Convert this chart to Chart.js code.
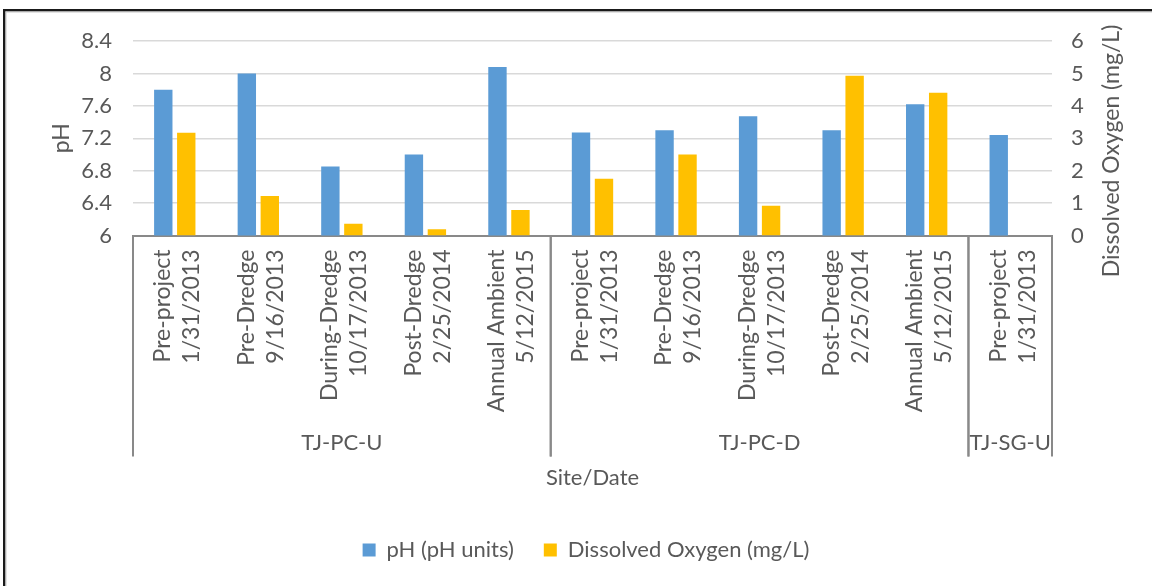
<!DOCTYPE html>
<html>
<head>
<meta charset="utf-8">
<script src="https://cdn.jsdelivr.net/npm/chart.js@4.4.1/dist/chart.umd.min.js"></script>
<style>
  html, body { margin: 0; padding: 0; background: #fff; }
  #wrap { position: relative; width: 1152px; height: 586px; }
</style>
</head>
<body>
<div id="wrap"><canvas id="waterChart" width="1152" height="586"></canvas></div>
<script>
const sampleNames = ["Pre-project", "Pre-Dredge", "During-Dredge", "Post-Dredge", "Annual Ambient",
                     "Pre-project", "Pre-Dredge", "During-Dredge", "Post-Dredge", "Annual Ambient",
                     "Pre-project"];
const sampleDates = ["1/31/2013", "9/16/2013", "10/17/2013", "2/25/2014", "5/12/2015",
                     "1/31/2013", "9/16/2013", "10/17/2013", "2/25/2014", "5/12/2015",
                     "1/31/2013"];
const siteNames = ["TJ-PC-U", "TJ-PC-D", "TJ-SG-U"];
const siteCounts = [5, 5, 1];
const phValues = [7.80, 8.00, 6.85, 7.00, 8.08, 7.27, 7.30, 7.47, 7.30, 7.62, 7.24];
const doValues = [3.17, 1.22, 0.36, 0.19, 0.79, 1.75, 2.50, 0.92, 4.93, 4.40, null];

const FONT = "Lato";
const TXT = "#595959";
const AXIS = "#898989";

// site brackets under the category labels, right axis title, frame
const siteBrackets = {
  id: "siteBrackets",
  beforeDraw(chart) {
    const { ctx, width, height } = chart;
    ctx.save();
    ctx.fillStyle = "#fff";
    ctx.fillRect(0, 0, width, height);
    ctx.fillStyle = "#1a1a1a";
    ctx.fillRect(3, 9, width - 3, 2.5);
    ctx.fillRect(3, 9, 2.5, height - 9);
    ctx.fillStyle = "#c8c8c8";
    ctx.fillRect(5.5, 11.5, width - 5.5, 1);
    ctx.fillRect(5.5, 11.5, 1, height - 11.5);
    ctx.restore();
  },
  afterDraw(chart) {
    const { ctx, scales: { x }, chartArea } = chart;
    const half = (x.getPixelForValue(1) - x.getPixelForValue(0)) / 2;
    const top = chartArea.bottom;
    const bottom = top + 221;
    ctx.save();
    ctx.strokeStyle = AXIS;
    ctx.lineWidth = 2;
    ctx.fillStyle = TXT;
    ctx.font = "22px " + FONT;
    ctx.textAlign = "center";
    ctx.textBaseline = "middle";
    let start = 0;
    siteNames.forEach((name, i) => {
      const end = start + siteCounts[i] - 1;
      const left = x.getPixelForValue(start) - half;
      const right = x.getPixelForValue(end) + half;
      ctx.beginPath();
      ctx.moveTo(left, top);
      ctx.lineTo(left, bottom);
      ctx.moveTo(right, top);
      ctx.lineTo(right, bottom);
      ctx.stroke();
      ctx.fillText(name, (left + right) / 2, top + 207);
      start = end + 1;
    });
    // right axis title reads bottom to top
    ctx.translate(chartArea.right + 60, 151);
    ctx.rotate(-Math.PI / 2);
    ctx.font = "23px " + FONT;
    ctx.fillText("Dissolved Oxygen (mg/L)", 0, 0);
    ctx.restore();
  }
};

new Chart(document.getElementById("waterChart"), {
  type: "bar",
  data: {
    labels: sampleNames.map((n, i) => [n, sampleDates[i]]),
    datasets: [
      {
        label: "pH (pH units)",
        data: phValues,
        backgroundColor: "#5b9bd5",
        yAxisID: "y",
        categoryPercentage: 0.55,
        barPercentage: 0.8
      },
      {
        label: "Dissolved Oxygen (mg/L)",
        data: doValues,
        backgroundColor: "#ffc000",
        yAxisID: "y1",
        categoryPercentage: 0.55,
        barPercentage: 0.8
      }
    ]
  },
  options: {
    responsive: false,
    animation: false,
    layout: { padding: { top: 41, left: 20, right: 0, bottom: 15 } },
    plugins: {
      tooltip: { enabled: false },
      legend: {
        position: "bottom",
        labels: {
          color: TXT,
          font: { family: FONT, size: 22 },
          boxWidth: 13,
          boxHeight: 13,
          padding: 30
        }
      }
    },
    scales: {
      x: {
        grid: { display: false, drawTicks: false },
        border: { display: true, color: AXIS, width: 2 },
        ticks: {
          color: TXT,
          font: { family: FONT, size: 23, lineHeight: 1.26 },
          autoSkip: false,
          maxRotation: 90,
          minRotation: 90,
          padding: 14,
          labelOffset: -12
        },
        title: {
          display: true,
          text: "Site/Date",
          color: TXT,
          font: { family: FONT, size: 22 },
          padding: { top: 0, bottom: 18 }
        },
        afterFit(s) { s.height = 273.5; }
      },
      y: {
        position: "left",
        min: 6,
        max: 8.4,
        ticks: {
          stepSize: 0.4,
          color: TXT,
          font: { family: FONT, size: 22 },
          padding: 21,
          callback: v => String(Number(v.toFixed(1)))
        },
        grid: { color: "#d9d9d9", lineWidth: 1.5, drawTicks: false },
        border: { display: false },
        title: {
          display: true,
          text: "pH",
          color: TXT,
          font: { family: FONT, size: 23 },
          padding: { top: 28, bottom: 0 }
        },
        afterFit(s) { s.width = 113; }
      },
      y1: {
        position: "right",
        min: 0,
        max: 6,
        ticks: {
          stepSize: 1,
          color: TXT,
          font: { family: FONT, size: 22 },
          padding: 19
        },
        grid: { display: false, drawTicks: false },
        border: { display: false },
        afterFit(s) { s.width = 100; }
      }
    }
  },
  plugins: [siteBrackets]
});
</script>
</body>
</html>
